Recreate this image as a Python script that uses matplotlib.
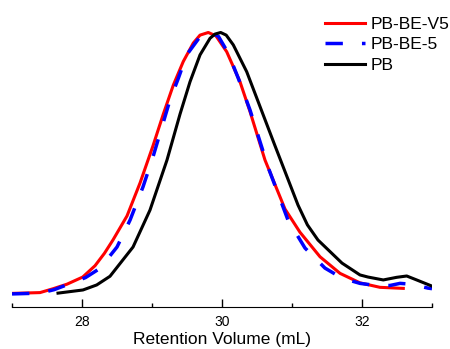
import numpy as np
import matplotlib.pyplot as plt

plt.rcParams['font.family'] = ['Liberation Sans', 'DejaVu Sans']

# GPC traces, normalised intensity
x_v5 = [27.00, 27.40, 27.59, 27.786, 28.01, 28.186, 28.32, 28.443, 28.643, 28.829, 29.014,
        29.161, 29.304, 29.447, 29.590, 29.686, 29.804, 29.914, 30.067, 30.257, 30.40,
        30.614, 30.90, 31.114, 31.40, 31.686, 31.971, 32.257, 32.59]
y_v5 = [0.010, 0.013, 0.028, 0.045, 0.072, 0.115, 0.162, 0.213, 0.304, 0.429, 0.570,
        0.690, 0.800, 0.890, 0.960, 0.990, 1.000, 0.987, 0.927, 0.813, 0.700,
        0.516, 0.330, 0.242, 0.149, 0.086, 0.050, 0.033, 0.029]

x_be5 = [27.00, 27.40, 27.60, 27.829, 28.05, 28.257, 28.50, 28.686, 28.871, 29.014,
         29.257, 29.376, 29.495, 29.686, 29.829, 29.95, 30.09, 30.233, 30.40, 30.657,
         30.943, 31.186, 31.471, 31.714, 31.971, 32.143, 32.40, 32.543, 32.70, 32.943, 33.00]
y_be5 = [0.008, 0.011, 0.024, 0.047, 0.070, 0.105, 0.186, 0.288, 0.414, 0.528,
         0.744, 0.826, 0.915, 0.984, 1.000, 0.985, 0.921, 0.826, 0.706, 0.490,
         0.288, 0.182, 0.106, 0.068, 0.048, 0.042, 0.040, 0.048, 0.045, 0.030, 0.028]

x_pb = [27.657, 28.014, 28.21, 28.40, 28.729, 28.971, 29.214, 29.40, 29.543, 29.686,
        29.829, 29.90, 29.981, 30.06, 30.161, 30.353, 30.52, 30.75, 31.086, 31.22, 31.371,
        31.714, 31.971, 32.086, 32.304, 32.496, 32.639, 32.781, 32.996]
y_pb = [0.011, 0.023, 0.042, 0.075, 0.186, 0.326, 0.516, 0.690, 0.813, 0.915,
        0.978, 0.994, 1.000, 0.990, 0.953, 0.851, 0.735, 0.575, 0.345, 0.270, 0.2125,
        0.125, 0.080, 0.072, 0.061, 0.071, 0.076, 0.061, 0.038]

labels = ['PB-BE-V5', 'PB-BE-5', 'PB']

fig = plt.figure(figsize=(4.5, 3.49), dpi=100)
ax = fig.add_axes([0.0267, 0.1203, 0.9333, 0.8224])

ax.plot(x_v5, y_v5, color='#ff0000', lw=2.2, solid_joinstyle='round', label=labels[0])
ax.plot(x_be5, y_be5, color='#0000ff', lw=2.5, dashes=(5, 5.5), dash_joinstyle='round',
        label=labels[1])
ax.plot(x_pb, y_pb, color='black', lw=2.2, solid_joinstyle='round', label=labels[2])

ax.set_xlim(27, 33)
ax.set_ylim(-0.0417, 1.0474)
ax.set_xticks([28, 30, 32])
ax.set_xticks([27, 29, 31, 33], minor=True)
ax.set_yticks([])
for s in ['top', 'right', 'left']:
    ax.spines[s].set_visible(False)
ax.tick_params(axis='x', which='major', direction='in', length=6, width=1, pad=6, labelsize=10)
ax.tick_params(axis='x', which='minor', direction='in', length=3, width=1)
ax.set_xlabel('Retention Volume (mL)', fontsize=12.5, labelpad=2)

ax.legend(loc='upper right', bbox_to_anchor=(449 / 450, 0.952), bbox_transform=fig.transFigure,
          frameon=False, fontsize=12.5, handlelength=2.3, handletextpad=0.3,
          labelspacing=0.3, borderaxespad=0, borderpad=0)

fig.savefig('out.png', dpi=100)
